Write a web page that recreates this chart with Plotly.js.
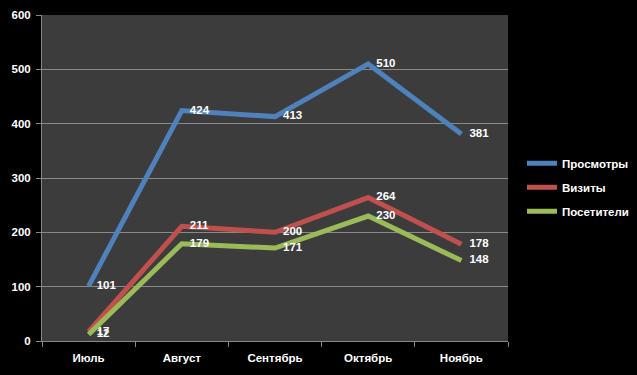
<!DOCTYPE html>
<html><head><meta charset="utf-8">
<script src="https://cdn.plot.ly/plotly-3.0.1.min.js"></script>
<style>body{margin:0;background:#000}</style>
</head><body><div id="chart" style="width:637px;height:375px"></div>
<script>
const months = ["Июль","Август","Сентябрь","Октябрь","Ноябрь"];
const views = [101, 424, 413, 510, 381];
const visits = [17, 211, 200, 264, 178];
const visitors = [12, 179, 171, 230, 148];

const fnt = {family:"Liberation Sans, Arial, sans-serif", size:11.5, color:"#ffffff", weight:"bold"};
function tr(name, y, color){
  return {x:months, y:y, name:name, legendgroup:name, type:"scatter", mode:"lines+text",
    line:{color:color, width:5}, text:y.map(v => "\u2002\u2009" + v), textposition:"middle right",
    textfont:fnt, cliponaxis:false};
}
const data = [tr("Просмотры", views, "#4f81bd"), tr("Визиты", visits, "#c0504d"), tr("Посетители", visitors, "#9bbb59")];
const layout = {
  width:637, height:375, paper_bgcolor:"#000000", plot_bgcolor:"#3c3c3c",
  margin:{l:42, r:129, t:15, b:34, autoexpand:false},
  showlegend:true,
  legend:{x:1.03, y:0.472, yanchor:"middle", xanchor:"left", font:fnt, bgcolor:"rgba(0,0,0,0)", itemwidth:30, tracegroupgap:5},
  xaxis:{type:"category", tickson:"boundaries", ticks:"outside", ticklen:5, tickcolor:"#888",
    showline:true, linecolor:"#888", showgrid:false, tickfont:fnt, range:[-0.5,4.5], ticklabelstandoff:6},
  yaxis:{range:[0,600], dtick:100, showline:true, linecolor:"#888", ticks:"outside", ticklen:5, tickcolor:"#888",
    gridcolor:"#8a8a8a", gridwidth:1, tickfont:fnt, zeroline:false, ticklabelstandoff:3}
};
Plotly.newPlot("chart", data, layout, {displayModeBar:false});
</script></body></html>
